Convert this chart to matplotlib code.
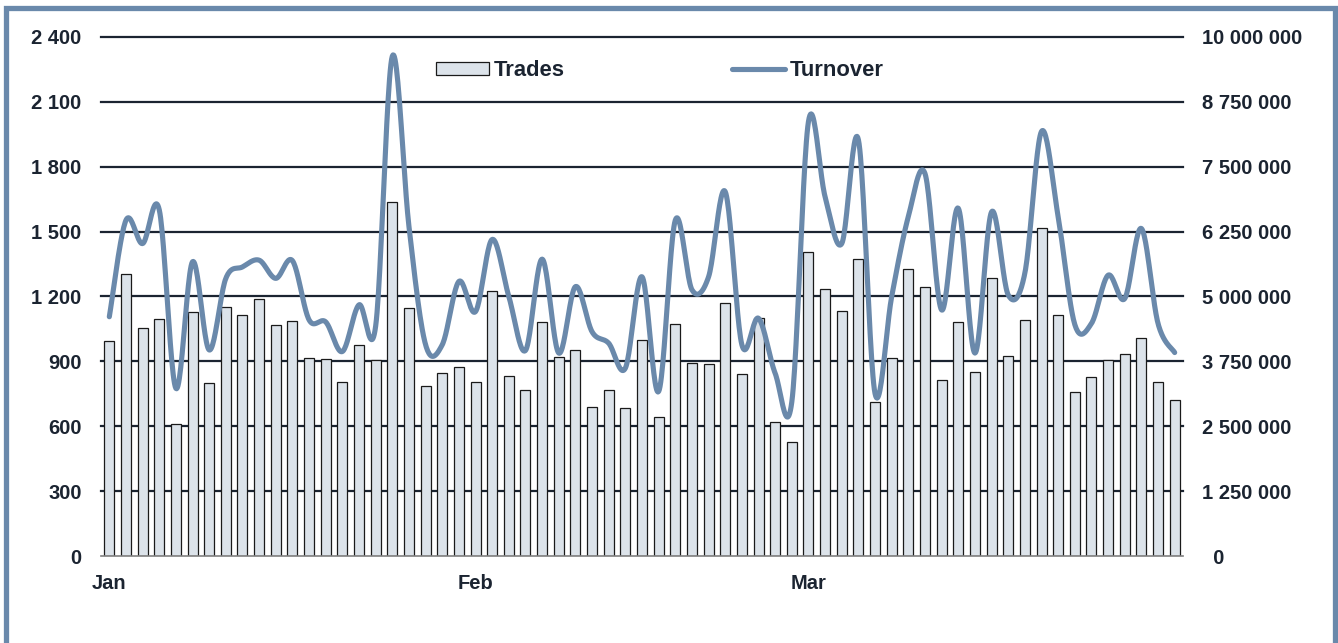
import numpy as np
import matplotlib
matplotlib.use("Agg")
import matplotlib.pyplot as plt
from matplotlib.lines import Line2D
from matplotlib.patches import Patch
from matplotlib.ticker import FuncFormatter

plt.rcParams['font.family'] = ['Liberation Sans', 'DejaVu Sans']

# ---- data ----
month_labels = ["Jan", "Feb", "Mar"]
month_start_index = [0, 22, 42]

trades = [995, 1305, 1056, 1094, 610, 1127, 798, 1153, 1113, 1190,
          1068, 1088, 917, 911, 805, 976, 908, 1638, 1147, 788,
          845, 875, 806, 1227, 834, 766, 1080, 920, 954, 687,
          766, 683, 997, 641, 1071, 894, 886, 1171, 840, 1099,
          621, 529, 1406, 1236, 1133, 1372, 714, 917, 1329, 1245,
          814, 1082, 852, 1287, 926, 1091, 1518, 1114, 757, 829,
          908, 934, 1007, 806, 720]

turnover = [4610000, 6470000, 6020000, 6670000, 3230000, 5670000, 3970000, 5350000, 5570000, 5700000,
            5350000, 5690000, 4550000, 4510000, 3940000, 4840000, 4430000, 9630000, 6350000, 4070000,
            4070000, 5290000, 4710000, 6100000, 5000000, 3960000, 5720000, 3910000, 5190000, 4320000,
            4100000, 3620000, 5380000, 3170000, 6470000, 5130000, 5380000, 7020000, 4070000, 4580000,
            3520000, 2970000, 8370000, 6920000, 6020000, 8020000, 3130000, 5000000, 6540000, 7370000,
            4740000, 6700000, 3910000, 6630000, 5030000, 5450000, 8180000, 6540000, 4460000, 4480000,
            5410000, 4960000, 6310000, 4480000, 3920000]

left_ticks = [0, 300, 600, 900, 1200, 1500, 1800, 2100, 2400]
right_ticks = [0, 1250000, 2500000, 3750000, 5000000, 6250000, 7500000, 8750000, 10000000]

# ---- style ----
BLUE = '#6a89ab'
BAR_FILL = '#dce3ea'
DARK = '#1b2431'
FS = 14.5
LFS = 15.8

def smooth(xs, ys, n=24):
    xs = np.asarray(xs, float)
    ys = np.asarray(ys, float)
    P = np.column_stack([xs, ys])
    Pp = np.vstack([P[0], P, P[-1]])
    out = []
    t = np.linspace(0, 1, n, endpoint=False)[:, None]
    for i in range(len(P) - 1):
        p0, p1, p2, p3 = Pp[i], Pp[i + 1], Pp[i + 2], Pp[i + 3]
        c1 = p1 + (p2 - p0) / 6.0
        c2 = p2 - (p3 - p1) / 6.0
        seg = ((1 - t) ** 3) * p1 + 3 * ((1 - t) ** 2) * t * c1 + 3 * (1 - t) * t ** 2 * c2 + t ** 3 * p2
        out.append(seg)
    out.append(P[-1][None, :])
    arr = np.vstack(out)
    return arr[:, 0], arr[:, 1]

fig = plt.figure(figsize=(13.38, 6.43), dpi=100)
W, H = 1338, 643
ax = fig.add_axes([101 / W, 1 - 556 / H, (1183 - 101) / W, (556 - 37) / H])
ax2 = ax.twinx()

x = np.arange(len(trades))
ax.bar(x, trades, width=0.6, color=BAR_FILL, edgecolor='#1a1a1a', linewidth=0.9, zorder=2)
ax.set_xlim(-0.5, len(trades) - 0.5)
ax.set_ylim(0, 2400)
ax.set_yticks(left_ticks)
for v in left_ticks[1:]:
    ax.axhline(v, color=DARK, lw=1.6, zorder=1, clip_on=False)
ax.axhline(0, color='#808080', lw=1.2, zorder=3, clip_on=False)

fmt = lambda v, p: f"{int(v):,}".replace(",", " ")
ax.yaxis.set_major_formatter(FuncFormatter(fmt))
ax.tick_params(axis='y', length=0, pad=14, labelsize=FS, labelcolor=DARK)
for lab in ax.get_yticklabels():
    lab.set_fontweight('bold')

ax.set_xticks(month_start_index)
ax.set_xticklabels(month_labels, fontsize=FS, fontweight='bold', color=DARK)
ax.tick_params(axis='x', length=0, pad=13)

for s in ax.spines.values():
    s.set_visible(False)
for s in ax2.spines.values():
    s.set_visible(False)

sx, sy = smooth(x, turnover)
ax2.plot(sx, sy, color=BLUE, lw=3.7, solid_capstyle='round', zorder=5)
ax2.set_ylim(0, 10000000)
ax2.set_yticks(right_ticks)
ax2.set_yticklabels([("  0" if v == 0 else fmt(v, None)) for v in right_ticks],
                    fontsize=FS, fontweight='bold', color=DARK)
ax2.tick_params(axis='y', length=0, pad=14)
ax.set_zorder(1)
ax2.set_zorder(2)
ax.patch.set_visible(False)

handles = [Patch(facecolor=BAR_FILL, edgecolor='#1a1a1a', linewidth=0.9, label='Trades'),
           Line2D([0], [0], color=BLUE, lw=3.7, solid_capstyle='round', label='Turnover')]
leg = fig.legend(handles=handles, loc='center left', bbox_to_anchor=(436 / W, 1 - 71 / H),
                 ncol=2, frameon=False, borderpad=0, borderaxespad=0,
                 handlelength=2.4, handleheight=0.5, handletextpad=0.25, columnspacing=7.6,
                 prop={'weight': 'bold', 'size': LFS})
for t in leg.get_texts():
    t.set_color(DARK)

# outer frame
fx = lambda px: px / W
fy = lambda py: 1 - py / H
fig.add_artist(Line2D([fx(5.5), fx(5.5), fx(1334.5), fx(1334.5)],
                      [0, fy(7.5), fy(7.5), 0], color=BLUE, lw=3.8,
                      solid_joinstyle='miter', transform=fig.transFigure))

fig.savefig('out.png', dpi=100)
